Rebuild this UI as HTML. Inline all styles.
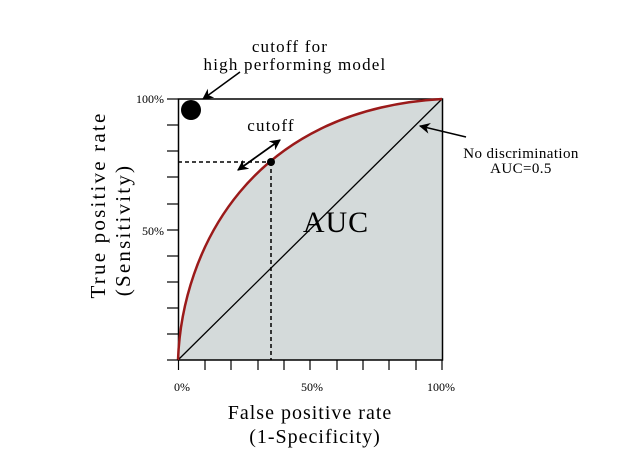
<!DOCTYPE html>
<html><head><style>body{margin:0;background:#fff}svg{display:block}</style></head><body>
<svg width="624" height="453" viewBox="0 0 624 453" font-family="Liberation Serif, serif">
<defs>
<marker id="ab" viewBox="0 0 10 10" refX="9" refY="5" markerWidth="15" markerHeight="11" orient="auto-start-reverse" markerUnits="userSpaceOnUse"><path d="M0,0 L10,5 L0,10 L3,5 z" fill="#000"/></marker>
</defs>
<path d="M178,360 C182,250 250,110 442,99 L442,360 Z" fill="#d4dada"/>
<rect x="178.5" y="99" width="264" height="261" fill="none" stroke="#000" stroke-width="1.5"/>
<line x1="178" y1="360" x2="442" y2="99" stroke="#000" stroke-width="1.3"/>
<path d="M178,360 C182,250 250,110 442,99" fill="none" stroke="#9b1a1a" stroke-width="2.5"/>
<g stroke="#000" stroke-width="1.2">
<line x1="167" y1="99" x2="178" y2="99"/><line x1="167" y1="125" x2="178" y2="125"/><line x1="167" y1="151" x2="178" y2="151"/><line x1="167" y1="177" x2="178" y2="177"/><line x1="167" y1="204" x2="178" y2="204"/><line x1="167" y1="230" x2="178" y2="230"/><line x1="167" y1="256" x2="178" y2="256"/><line x1="167" y1="282" x2="178" y2="282"/><line x1="167" y1="308" x2="178" y2="308"/><line x1="167" y1="334" x2="178" y2="334"/><line x1="167" y1="360" x2="178" y2="360"/>
<line x1="178.5" y1="360" x2="178.5" y2="370"/><line x1="205" y1="360" x2="205" y2="370"/><line x1="231" y1="360" x2="231" y2="370"/><line x1="258" y1="360" x2="258" y2="370"/><line x1="284" y1="360" x2="284" y2="370"/><line x1="310" y1="360" x2="310" y2="370"/><line x1="337" y1="360" x2="337" y2="370"/><line x1="363" y1="360" x2="363" y2="370"/><line x1="389" y1="360" x2="389" y2="370"/><line x1="416" y1="360" x2="416" y2="370"/><line x1="442" y1="360" x2="442" y2="370"/>
</g>
<g stroke="#000" stroke-width="1.5" stroke-dasharray="4,3">
<line x1="178" y1="162" x2="271" y2="162"/><line x1="271" y1="162" x2="271" y2="360"/>
</g>
<circle cx="271" cy="162" r="4" fill="#000"/>
<circle cx="191" cy="110" r="10" fill="#000"/>
<line x1="238" y1="170" x2="280" y2="140" stroke="#000" stroke-width="1.8" marker-start="url(#ab)" marker-end="url(#ab)"/>
<line x1="240" y1="72" x2="203" y2="99" stroke="#000" stroke-width="1.5" marker-end="url(#ab)"/>
<line x1="466" y1="137" x2="420" y2="126" stroke="#000" stroke-width="1.5" marker-end="url(#ab)"/>
<g font-size="17" text-anchor="middle" letter-spacing="1.2">
<text x="290" y="52">cutoff for</text>
<text x="295" y="70">high performing model</text>
<text x="271" y="131">cutoff</text>
</g>
<g font-size="15" text-anchor="middle" letter-spacing="0.4">
<text x="521" y="158">No  discrimination</text>
<text x="521" y="173">AUC=0.5</text>
</g>
<text x="336" y="232" font-size="30" text-anchor="middle" letter-spacing="1">AUC</text>
<g font-size="12">
<text x="164" y="103" text-anchor="end">100%</text>
<text x="164" y="235" text-anchor="end">50%</text>
<text x="182" y="391" text-anchor="middle">0%</text>
<text x="312" y="391" text-anchor="middle">50%</text>
<text x="441" y="391" text-anchor="middle">100%</text>
</g>
<g font-size="20" text-anchor="middle" letter-spacing="1">
<text x="310" y="419">False positive rate</text>
<text x="315" y="443">(1-Specificity)</text>
</g>
<g font-size="21" text-anchor="middle" letter-spacing="2.2">
<text transform="translate(105,205) rotate(-90)">True  positive  rate</text>
<text transform="translate(130,230) rotate(-90)">(Sensitivity)</text>
</g>
</svg>
</body></html>
